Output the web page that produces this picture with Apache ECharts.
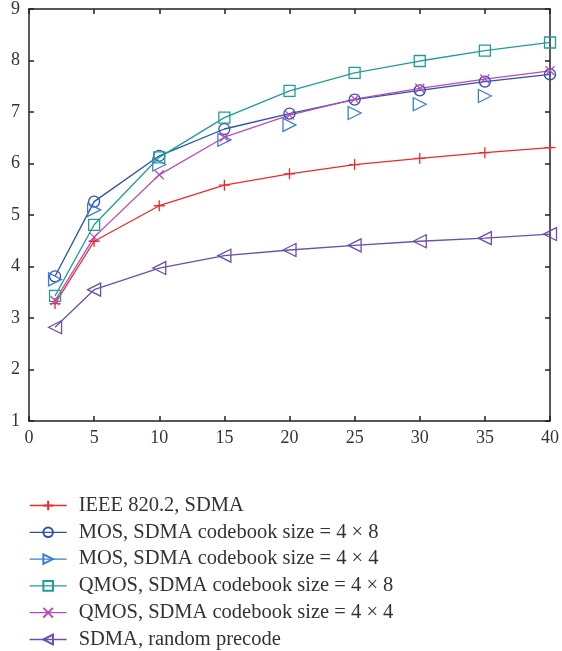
<!DOCTYPE html>
<html><head><meta charset="utf-8">
<script src="https://cdn.jsdelivr.net/npm/echarts@6/dist/echarts.min.js"></script>
<style>html,body{margin:0;padding:0;background:#fff}#c{width:562px;height:651px}</style>
</head><body><div id="c"></div>
<script>
const xValues = [2, 5, 10, 15, 20, 25, 30, 35, 40];
const ieee = [3.28, 4.49, 5.18, 5.58, 5.80, 5.98, 6.10, 6.21, 6.31];
const mos48 = [3.81, 5.26, 6.15, 6.67, 6.97, 7.24, 7.42, 7.59, 7.73];
const mos44 = [3.75, 5.10, 5.98, 6.46, 6.75, 6.98, 7.15, 7.31, null];
const qmos48 = [3.43, 4.81, 6.12, 6.89, 7.41, 7.76, 7.99, 8.19, 8.35];
const qmos44 = [3.34, 4.57, 5.78, 6.51, 6.94, 7.25, 7.46, 7.64, 7.80];
const sdmaRandom = [2.82, 3.55, 3.97, 4.21, 4.32, 4.41, 4.49, 4.55, 4.63];
const names = ['IEEE 820.2, SDMA', 'MOS, SDMA codebook size = 4 \u00d7 8', 'MOS, SDMA codebook size = 4 \u00d7 4',
  'QMOS, SDMA codebook size = 4 \u00d7 8', 'QMOS, SDMA codebook size = 4 \u00d7 4', 'SDMA, random precode'];
const colors = ['#ee2a2a', '#2d4fb0', '#3d7fd0', '#1f9e98', '#b84db5', '#6a4fae'];

const plus = 'path://M0,5L10,5M5,0L5,10';
const cross = 'path://M0,0L10,10M10,0L0,10';
const symbols = [plus, 'circle', 'triangle', 'rect', cross, 'triangle'];
const rotates = [0, 0, -90, 0, 0, 90];
const sizes = [11, 11, 13, 11, 9, 13];
const allData = [ieee, mos48, mos44, qmos48, qmos44, sdmaRandom];

const series = allData.map((d, i) => ({
  name: names[i], type: 'line', data: xValues.map((x, k) => [x, d[k]]),
  symbol: symbols[i], symbolSize: sizes[i], symbolRotate: rotates[i], showAllSymbol: true,
  lineStyle: { color: colors[i], width: 1.3, opacity: i === 2 ? 0 : 1 },
  itemStyle: { color: '#ffffff00', borderColor: colors[i], borderWidth: 1.3 },
  emphasis: { disabled: true }, animation: false, clip: false, z: 3
}));

const tickStyle = { color: '#222', width: 1.5 };
const mkX = (pos, showLabel) => ({
  type: 'value', min: 0, max: 40, interval: 5, position: pos,
  axisLine: { show: true, onZero: false, lineStyle: tickStyle },
  axisTick: { show: true, inside: true, length: 5, lineStyle: tickStyle },
  axisLabel: { show: showLabel, color: '#333', fontFamily: 'Liberation Serif', fontSize: 18, margin: 8 },
  splitLine: { show: false }
});
const mkY = (pos, showLabel) => ({
  type: 'value', min: 1, max: 9, interval: 1, position: pos,
  axisLine: { show: true, onZero: false, lineStyle: tickStyle },
  axisTick: { show: true, inside: true, length: 5, lineStyle: tickStyle },
  axisLabel: { show: showLabel, color: '#333', fontFamily: 'Liberation Serif', fontSize: 18, margin: 9 },
  splitLine: { show: false }
});

const chart = echarts.init(document.getElementById('c'), null, { renderer: 'canvas' });
chart.setOption({
  backgroundColor: '#fff',
  animation: false,
  grid: { left: 29, right: 10, top: 8, bottom: 230, containLabel: false },
  xAxis: [mkX('bottom', true), mkX('top', false)],
  yAxis: [mkY('left', true), mkY('right', false)],
  legend: {
    orient: 'vertical', left: 24, top: 490, height: 160, itemGap: 5.8, itemWidth: 37, itemHeight: 12,
    textStyle: { fontFamily: 'Liberation Serif', fontSize: 20.5, color: '#333', padding: [0, 0, 0, 7] },
    data: names.map((n, i) => ({ name: n, lineStyle: { opacity: 1, color: colors[i], width: 1.3 } })),
    selectedMode: false
  },
  series: series
});
</script></body></html>
